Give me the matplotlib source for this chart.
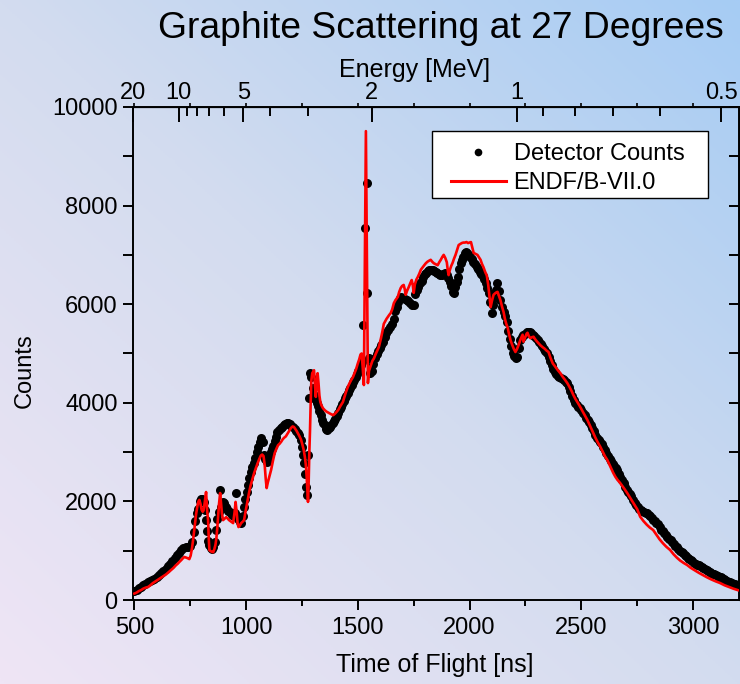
import numpy as np
import matplotlib.pyplot as plt
import matplotlib.ticker as mticker
from matplotlib.colors import LinearSegmentedColormap
from matplotlib.patches import Rectangle

plt.rcParams["font.family"] = ["Liberation Sans", "DejaVu Sans"]

# time of flight [ns] and detector counts
det_tof = [
    500, 510, 520, 530, 540, 550, 560, 570, 580, 590,
    600, 610, 620, 630, 640, 650, 660, 670, 680, 690,
    700, 710, 720, 730, 740, 750, 758, 765, 772, 779,
    786, 792, 798, 804, 810, 815, 820, 825, 830, 836,
    842, 848, 854, 860, 866, 872, 878, 884, 890, 896,
    902, 908, 914, 920, 926, 932, 938, 944, 950, 955,
    960, 966, 972, 978, 984, 990, 996, 1002, 1008, 1014,
    1020, 1027, 1034, 1041, 1048, 1055, 1062, 1068, 1074, 1080,
    1086, 1092, 1098, 1104, 1110, 1116, 1122, 1128, 1134, 1140,
    1147, 1154, 1161, 1168, 1175, 1182, 1189, 1196, 1203, 1210,
    1217, 1224, 1231, 1238, 1245, 1251, 1256, 1260, 1264, 1268,
    1272, 1278, 1282, 1287, 1292, 1298, 1304, 1310, 1316, 1322,
    1328, 1334, 1340, 1346, 1352, 1358, 1364, 1370, 1376, 1382,
    1388, 1394, 1400, 1406, 1412, 1418, 1424, 1430, 1436, 1442,
    1448, 1454, 1460, 1466, 1472, 1478, 1484, 1490, 1496, 1502,
    1508, 1514, 1520, 1525, 1533, 1539, 1543, 1549, 1556, 1563,
    1570, 1577, 1584, 1591, 1598, 1605, 1612, 1620, 1628, 1636,
    1644, 1652, 1660, 1667, 1674, 1681, 1688, 1695, 1702, 1710,
    1718, 1726, 1734, 1742, 1750, 1757, 1764, 1771, 1778, 1785,
    1792, 1799, 1806, 1813, 1820, 1827, 1834, 1841, 1848, 1855,
    1862, 1869, 1876, 1883, 1890, 1897, 1904, 1911, 1918, 1924,
    1930, 1936, 1942, 1948, 1954, 1960, 1966, 1972, 1978, 1984,
    1990, 1996, 2003, 2010, 2017, 2024, 2031, 2038, 2045, 2052,
    2059, 2066, 2073, 2080, 2086, 2092, 2098, 2104, 2110, 2117,
    2124, 2131, 2138, 2145, 2152, 2159, 2166, 2173, 2180, 2187,
    2194, 2200, 2206, 2213, 2220, 2227, 2234, 2241, 2248, 2255,
    2262, 2269, 2276, 2283, 2290, 2297, 2304, 2311, 2318, 2325,
    2332, 2339, 2346, 2353, 2360, 2367, 2374, 2381, 2388, 2395,
    2402, 2409, 2416, 2423, 2430, 2437, 2444, 2451, 2458, 2465,
    2472, 2479, 2486, 2493, 2500, 2507, 2514, 2521, 2528, 2535,
    2542, 2549, 2556, 2563, 2570, 2577, 2584, 2591, 2598, 2605,
    2612, 2619, 2626, 2633, 2640, 2647, 2654, 2661, 2668, 2675,
    2682, 2689, 2696, 2703, 2710, 2717, 2724, 2731, 2738, 2745,
    2752, 2759, 2766, 2773, 2780, 2787, 2794, 2801, 2808, 2815,
    2822, 2829, 2836, 2843, 2850, 2857, 2864, 2871, 2878, 2885,
    2892, 2899, 2906, 2913, 2920, 2927, 2934, 2941, 2948, 2955,
    2962, 2969, 2976, 2983, 2990, 2997, 3004, 3011, 3018, 3025,
    3032, 3039, 3046, 3053, 3060, 3067, 3074, 3081, 3088, 3095,
    3102, 3109, 3116, 3123, 3130, 3137, 3144, 3151, 3158, 3165,
    3172, 3179, 3186, 3193, 3200,
]
det_counts = [
    180, 200, 240, 270, 300, 330, 360, 380, 410, 430,
    460, 500, 550, 590, 630, 680, 730, 790, 850, 910,
    960, 1010, 1050, 1070, 1080, 1100, 1180, 1380, 1600, 1760,
    1850, 2000, 2040, 2050, 1980, 1820, 1620, 1400, 1200, 1110,
    1060, 1040, 1070, 1180, 1420, 1640, 1780, 2230, 1880, 1980,
    1960, 1880, 1840, 1810, 1790, 1760, 1720, 1700, 1760, 2170,
    1700, 1640, 1580, 1560, 1700, 1880, 2050, 2200, 2340, 2480,
    2600, 2700, 2770, 2880, 3000, 3100, 3200, 3290, 3200, 2950,
    2850, 2800, 2870, 2950, 3000, 3060, 3120, 3230, 3300, 3400,
    3450, 3480, 3510, 3540, 3570, 3590, 3600, 3570, 3530, 3500,
    3460, 3420, 3380, 3340, 3240, 3100, 2950, 2780, 2550, 2300,
    2130, 2950, 4100, 4600, 4520, 4300, 4150, 4080, 4000, 3940,
    3840, 3760, 3660, 3600, 3540, 3470, 3450, 3480, 3500, 3540,
    3590, 3640, 3680, 3740, 3800, 3870, 3910, 3980, 4040, 4100,
    4140, 4200, 4250, 4310, 4360, 4420, 4470, 4520, 4590, 4650,
    4700, 4760, 4820, 5570, 7540, 8450, 6230, 4900, 4600, 4650,
    4780, 4900, 4980, 5060, 5110, 5170, 5230, 5330, 5420, 5480,
    5530, 5600, 5700, 5860, 5950, 6050, 6130, 6150, 6120, 6100,
    6090, 6060, 6020, 5990, 5980, 6200, 6290, 6350, 6420, 6480,
    6560, 6610, 6640, 6670, 6690, 6700, 6690, 6670, 6650, 6630,
    6620, 6600, 6590, 6610, 6630, 6600, 6530, 6460, 6360, 6250,
    6220, 6340, 6450, 6560, 6720, 6830, 6900, 6960, 7030, 7060,
    7040, 7000, 6960, 6910, 6860, 6810, 6760, 6720, 6660, 6610,
    6570, 6520, 6430, 6330, 6230, 6050, 5820, 5980, 6130, 6280,
    6430, 6260, 6090, 5950, 5840, 5760, 5640, 5460, 5300, 5150,
    5000, 4940, 4910, 4930, 5120, 5270, 5330, 5370, 5400, 5430,
    5440, 5430, 5410, 5380, 5350, 5310, 5270, 5230, 5200, 5150,
    5100, 5060, 5010, 4930, 4840, 4760, 4690, 4620, 4580, 4550,
    4520, 4510, 4490, 4460, 4430, 4400, 4320, 4230, 4140, 4060,
    4000, 3960, 3920, 3890, 3850, 3800, 3750, 3700, 3660, 3610,
    3540, 3480, 3420, 3350, 3290, 3240, 3200, 3160, 3110, 3050,
    2990, 2920, 2860, 2810, 2760, 2720, 2680, 2630, 2560, 2500,
    2440, 2380, 2300, 2240, 2190, 2160, 2100, 2030, 1970, 1920,
    1880, 1850, 1830, 1810, 1790, 1770, 1760, 1730, 1700, 1670,
    1630, 1600, 1570, 1540, 1480, 1430, 1390, 1350, 1310, 1270,
    1240, 1210, 1170, 1130, 1100, 1070, 1030, 1000, 980, 950,
    920, 890, 860, 840, 810, 790, 760, 740, 720, 700,
    680, 660, 640, 620, 600, 580, 560, 550, 530, 520,
    500, 490, 470, 460, 440, 420, 400, 390, 370, 360,
    350, 330, 320, 310, 300,
]

# ENDF/B-VII.0 simulation
endf_tof = [
    500, 510, 520, 530, 540, 550, 562, 572, 582, 592,
    602, 612, 622, 632, 642, 652, 665, 675, 685, 695,
    701, 710, 718, 724, 732, 740, 746, 752, 758, 763,
    768, 772, 777, 782, 787, 791, 796, 801, 806, 810,
    815, 821, 826, 830, 833, 836, 842, 848, 853, 858,
    863, 867, 871, 875, 879, 884, 888, 892, 897, 904,
    911, 918, 924, 930, 936, 942, 948, 953, 958, 962,
    966, 972, 978, 985, 991, 997, 1004, 1013, 1020, 1028,
    1036, 1044, 1052, 1060, 1066, 1072, 1078, 1083, 1088, 1092,
    1097, 1104, 1112, 1120, 1128, 1136, 1143, 1150, 1157, 1164,
    1170, 1178, 1186, 1194, 1201, 1208, 1214, 1220, 1226, 1232,
    1239, 1246, 1252, 1258, 1263, 1267, 1271, 1274, 1277, 1280,
    1283, 1286, 1289, 1292, 1296, 1300, 1304, 1308, 1312, 1316,
    1320, 1324, 1328, 1332, 1337, 1344, 1352, 1360, 1368, 1376,
    1384, 1390, 1398, 1406, 1413, 1420, 1427, 1433, 1440, 1447,
    1455, 1462, 1470, 1478, 1485, 1492, 1500, 1506, 1512, 1517,
    1522, 1527, 1536, 1545, 1550, 1558, 1565, 1572, 1580, 1587,
    1594, 1603, 1610, 1616, 1622, 1628, 1634, 1640, 1647, 1654,
    1661, 1668, 1674, 1679, 1685, 1692, 1698, 1705, 1710, 1714,
    1720, 1728, 1735, 1741, 1746, 1750, 1755, 1762, 1768, 1775,
    1782, 1790, 1797, 1804, 1811, 1818, 1826, 1833, 1840, 1848,
    1857, 1864, 1871, 1878, 1884, 1891, 1898, 1902, 1906, 1912,
    1918, 1924, 1930, 1937, 1944, 1951, 1958, 1965, 1972, 1979,
    1986, 1993, 2000, 2006, 2012, 2018, 2026, 2035, 2042, 2049,
    2055, 2062, 2070, 2077, 2083, 2088, 2094, 2100, 2107, 2114,
    2120, 2125, 2131, 2138, 2145, 2152, 2158, 2164, 2170, 2176,
    2183, 2190, 2197, 2205, 2212, 2219, 2228, 2237, 2241, 2248,
    2255, 2259, 2265, 2272, 2279, 2286, 2293, 2300, 2308, 2316,
    2326, 2335, 2344, 2353, 2362, 2372, 2384, 2395, 2406, 2416,
    2426, 2437, 2447, 2456, 2464, 2473, 2484, 2495, 2505, 2516,
    2527, 2540, 2553, 2563, 2573, 2585, 2595, 2605, 2616, 2625,
    2634, 2643, 2652, 2661, 2674, 2690, 2705, 2720, 2735, 2750,
    2763, 2778, 2792, 2806, 2821, 2836, 2850, 2865, 2880, 2897,
    2912, 2927, 2942, 2958, 2973, 2990, 3008, 3026, 3044, 3062,
    3080, 3100, 3120, 3140, 3160, 3180, 3200,
]
endf_counts = [
    130, 150, 180, 200, 230, 250, 265, 300, 340, 370,
    400, 430, 460, 490, 520, 560, 610, 650, 700, 740,
    770, 810, 850, 872, 860, 845, 830, 900, 1050, 1220,
    1420, 1600, 1760, 1900, 2000, 2030, 1950, 1830, 1790, 1820,
    1980, 2190, 1800, 1620, 1250, 1010, 990, 975, 970, 1030,
    1120, 1250, 1450, 1700, 1950, 2170, 1950, 1750, 1620, 1650,
    1680, 1650, 1620, 1600, 1580, 1560, 1760, 1990, 1780, 1560,
    1480, 1510, 1560, 1590, 1620, 1780, 1950, 2170, 2320, 2450,
    2575, 2680, 2780, 2870, 2930, 2950, 2920, 2750, 2450, 2270,
    2380, 2500, 2640, 2820, 2980, 3070, 3140, 3170, 3210, 3260,
    3290, 3320, 3380, 3440, 3490, 3520, 3510, 3470, 3430, 3380,
    3320, 3250, 3150, 3040, 2900, 2750, 2500, 2250, 1990, 2400,
    3000, 3450, 4000, 4450, 4600, 4630, 4660, 4350, 4120, 4380,
    4600, 4400, 4150, 4020, 3950, 3890, 3850, 3820, 3800, 3780,
    3760, 3750, 3780, 3820, 3860, 3920, 3970, 4015, 4120, 4220,
    4320, 4390, 4460, 4520, 4600, 4680, 4800, 4880, 4980, 5000,
    4700, 4360, 9510, 4400, 4650, 4760, 4850, 4900, 4990, 5060,
    5130, 5300, 5450, 5600, 5650, 5700, 5740, 5780, 5820, 5900,
    6020, 6080, 6120, 6150, 6250, 6330, 6370, 6390, 6300, 6190,
    6270, 6350, 6430, 6490, 6380, 6230, 6400, 6500, 6550, 6620,
    6700, 6750, 6790, 6830, 6860, 6880, 6900, 6860, 6830, 6810,
    6790, 6850, 6900, 6960, 7000, 6940, 6850, 6700, 6590, 6700,
    6780, 6840, 6920, 7000, 7100, 7200, 7220, 7240, 7250, 7250,
    7260, 7240, 7250, 7260, 7150, 7040, 7020, 7000, 6950, 6900,
    6820, 6750, 6650, 6580, 6400, 6200, 5940, 6070, 6190, 6220,
    6240, 6250, 6170, 6080, 5950, 5840, 5700, 5600, 5530, 5400,
    5270, 5180, 5100, 5030, 5090, 5170, 5290, 5380, 5240, 5320,
    5400, 5420, 5350, 5310, 5330, 5340, 5290, 5250, 5210, 5170,
    5130, 5100, 5060, 5030, 4910, 4800, 4725, 4660, 4600, 4530,
    4470, 4400, 4320, 4240, 4160, 4080, 4000, 3915, 3830, 3740,
    3650, 3520, 3385, 3290, 3200, 3105, 3010, 2920, 2840, 2750,
    2660, 2575, 2500, 2440, 2370, 2270, 2170, 2060, 1950, 1840,
    1690, 1600, 1530, 1470, 1420, 1320, 1230, 1150, 1080, 1015,
    930, 860, 800, 750, 710, 650, 600, 550, 505, 460,
    420, 380, 345, 300, 265, 230, 200,
]

x_ticks = [500, 1000, 1500, 2000, 2500, 3000]
y_ticks = [0, 2000, 4000, 6000, 8000, 10000]
energy_major = [20, 10, 5, 2, 1, 0.5]
energy_labels = ["20", "10", "5", "2", "1", "0.5"]
energy_minor = [9, 8, 7, 6, 4, 3, 0.9, 0.8, 0.7, 0.6]

# E = K / t^2, with 1 MeV arriving at ~2210 ns
K_MEV_NS2 = 2210.0 ** 2


def tof_to_mev(t):
    t = np.asarray(t, dtype=float)
    return K_MEV_NS2 / np.maximum(t, 1e-6) ** 2


def mev_to_tof(e):
    e = np.asarray(e, dtype=float)
    return np.sqrt(K_MEV_NS2 / np.maximum(e, 1e-9))


fig = plt.figure(figsize=(7.4, 6.84), dpi=100)

# diagonal background wash, lavender bottom-left to blue top-right
bg = fig.add_axes([0, 0, 1, 1], zorder=-10)
gy, gx = np.mgrid[0:1:300j, 0:1:300j]
wash = LinearSegmentedColormap.from_list(
    "wash", ["#efe5f5", "#d3dcef", "#a6ccf4"]
)
bg.imshow((gx + gy) / 2.0, cmap=wash, origin="lower", aspect="auto",
          extent=(0, 1, 0, 1), vmin=0, vmax=1)
bg.set_axis_off()

ax = fig.add_axes([0.1797, 0.1228, 0.8189, 0.7208])
ax.set_facecolor("none")

ax.plot(det_tof, det_counts, "o", color="black", ms=6.5, mew=0,
        label="Detector Counts", zorder=2)
ax.plot(endf_tof, endf_counts, color="red", lw=1.9,
        label="ENDF/B-VII.0", zorder=3)

ax.set_xlim(494, 3205)
ax.set_ylim(0, 10000)
ax.set_xticks(x_ticks)
ax.set_yticks(y_ticks)
ax.xaxis.set_minor_locator(mticker.MultipleLocator(250))
ax.yaxis.set_minor_locator(mticker.MultipleLocator(1000))
for side in ax.spines.values():
    side.set_linewidth(1.4)

ax.tick_params(axis="x", which="major", direction="out", length=7,
               width=1.4, labelsize=17, pad=5, top=False)
ax.tick_params(axis="x", which="minor", direction="out", length=4.5,
               width=1.4, top=False)
ax.tick_params(axis="y", which="both", direction="out", length=7,
               width=1.4, labelsize=17, pad=4, right=False)

# small mirrored time ticks along the top edge
top_t = ax.secondary_xaxis("top")
top_t.set_xticks(x_ticks)
top_t.xaxis.set_minor_locator(mticker.MultipleLocator(250))
top_t.tick_params(which="both", direction="out", length=3, width=1.2,
                  labeltop=False)

# right edge mirror, ticks inward
right_c = ax.secondary_yaxis("right")
right_c.set_yticks(y_ticks)
right_c.yaxis.set_minor_locator(mticker.MultipleLocator(1000))
right_c.tick_params(which="both", direction="in", length=7, width=1.4,
                    labelright=False)

# energy scale on top
sec = ax.secondary_xaxis("top", functions=(tof_to_mev, mev_to_tof))
sec.xaxis.set_major_locator(mticker.FixedLocator(energy_major))
sec.xaxis.set_major_formatter(mticker.FixedFormatter(energy_labels))
sec.xaxis.set_minor_locator(mticker.FixedLocator(energy_minor))
sec.xaxis.set_minor_formatter(mticker.NullFormatter())
sec.tick_params(which="major", direction="in", length=11, width=1.4,
                labelsize=17, pad=2)
sec.tick_params(which="minor", direction="in", length=6.5, width=1.4)

# legend: white box drawn separately so the entries sit inset from its edge
ax.add_patch(Rectangle((0.4934, 0.8154), 0.4554, 0.1359,
                       transform=ax.transAxes, facecolor="white",
                       edgecolor="black", linewidth=1.0, zorder=5))
leg = ax.legend(loc="center left", bbox_to_anchor=(0.524, 0.8755),
                frameon=False, fontsize=17, handlelength=2.33,
                borderaxespad=0, borderpad=0, markerscale=0.85,
                labelspacing=0.3, handletextpad=0.34)
leg.set_zorder(6)
for h in leg.legend_handles:
    if h.get_linestyle() != "None":
        h.set_linewidth(2.2)

fig.text(441 / 740, 1 - 28 / 684, "Graphite Scattering at 27 Degrees",
         ha="center", va="center", fontsize=26.8)
fig.text(415 / 740, 1 - 70 / 684, "Energy [MeV]",
         ha="center", va="center", fontsize=18)
fig.text(435 / 740, 1 - 665 / 684, "Time of Flight [ns]",
         ha="center", va="center", fontsize=18)
fig.text(25 / 740, 1 - 371 / 684, "Counts", rotation=90,
         ha="center", va="center", fontsize=17)

fig.savefig("out.png", dpi=100)
